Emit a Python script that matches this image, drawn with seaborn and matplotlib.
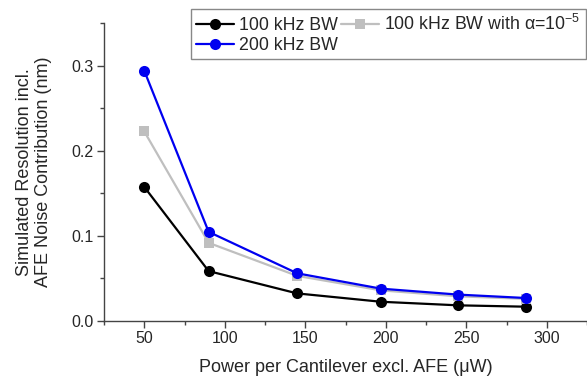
import numpy as np
import pandas as pd
import matplotlib
matplotlib.use("Agg")
import matplotlib.pyplot as plt
import seaborn as sns
from matplotlib.ticker import MultipleLocator

# power per cantilever (uW)
power = [50, 90, 145, 197, 245, 287]
res_100k = [0.1575, 0.0586, 0.0324, 0.0226, 0.0184, 0.0168]
res_100k_alpha = [0.2227, 0.0918, 0.0530, 0.0360, 0.0290, 0.0260]
res_200k = [0.294, 0.1047, 0.0560, 0.0380, 0.0310, 0.0270]

sns.set_style("ticks")
plt.rcParams['font.family'] = ['Liberation Sans', 'DejaVu Sans']
plt.rcParams['mathtext.fontset'] = 'custom'
plt.rcParams['mathtext.rm'] = 'Liberation Sans'
plt.rcParams['mathtext.it'] = 'Liberation Sans'

fig = plt.figure(figsize=(5.87, 3.76), dpi=100)
ax = fig.add_axes([104/587, 55/376, 483/587, 298/376])

sns.lineplot(x=power, y=res_100k, ax=ax, color='black', marker='o',
             markersize=8, markeredgewidth=0, linewidth=1.6,
             label='100 kHz BW')
sns.lineplot(x=power, y=res_100k_alpha, ax=ax, color='#bfbfbf', marker='s',
             markersize=7, markeredgewidth=0, linewidth=1.6,
             label='100 kHz BW with \u03b1=10$^{-5}$')
sns.lineplot(x=power, y=res_200k, ax=ax, color='#0000f0', marker='o',
             markersize=8, markeredgewidth=0, linewidth=1.6,
             label='200 kHz BW')

ax.set_xlim(25, 325)
ax.set_ylim(0, 0.35)
ax.xaxis.set_major_locator(MultipleLocator(50))
ax.xaxis.set_minor_locator(MultipleLocator(25))
ax.yaxis.set_minor_locator(MultipleLocator(0.05))
ax.set_yticks([0.0, 0.1, 0.2, 0.3])
ax.set_yticklabels(['0.0', '0.1', '0.2', '0.3'])

for s in ['top', 'right']:
    ax.spines[s].set_visible(False)
for s in ['left', 'bottom']:
    ax.spines[s].set_color('#444444')
    ax.spines[s].set_linewidth(1.0)
ax.tick_params(which='major', direction='out', length=5, width=1, color='#444444',
               labelsize=11.5, pad=2.5)
ax.tick_params(which='minor', direction='out', length=3, width=1, color='#444444')

ax.set_xlabel('Power per Cantilever excl. AFE (\u03bcW)', fontsize=13, labelpad=9)
ax.set_ylabel('Simulated Resolution incl.\nAFE Noise Contribution (nm)', fontsize=13,
              labelpad=14, linespacing=1.15)

h, l = ax.get_legend_handles_labels()
order = [0, 2, 1]
leg = ax.legend([h[i] for i in order], [l[i] for i in order], ncol=2,
                loc='upper left', bbox_to_anchor=(191/587, 1 - 9/376),
                bbox_transform=fig.transFigure, fontsize=12.8, frameon=True,
                fancybox=False, edgecolor='#888888', framealpha=1,
                handlelength=2.1, handletextpad=0.3, columnspacing=0.2,
                labelspacing=0.15, borderpad=0.3, borderaxespad=0)
leg.get_frame().set_linewidth(1.0)

fig.savefig('out.png', dpi=100)
